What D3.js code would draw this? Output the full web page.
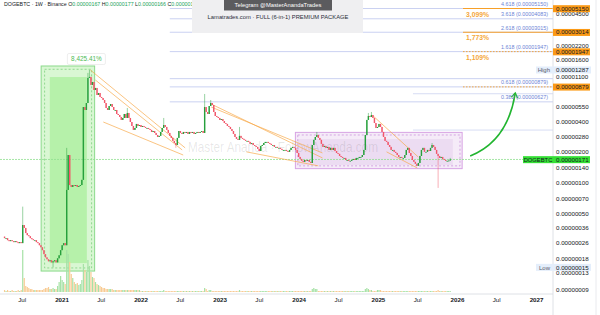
<!DOCTYPE html>
<html>
<head>
<meta charset="utf-8">
<script src="https://cdn.jsdelivr.net/npm/d3@7"></script>
<style>
  body { margin: 0; background: #fff; }
  svg { display: block; font-family: "Liberation Sans", Arial, sans-serif; }
</style>
</head>
<body>
<div id="chart"></div>
<script>
// DOGEBTC 1W (Binance) - prices in satoshi (1e-8 BTC), one close per week
const FIRST_WEEK = "2020-04-13";
const FIRST_OPEN = 30;

const close2020 = [29, 29, 27.7, 27.1, 27.7, 27.1, 26.5, 27.1, 26.5, 25.9, 26.5, 25.9,
  39, 36.5, 32.5, 31, 30.3, 29, 28.3, 27.7, 27.7, 26.5, 25.9, 24.7, 23.6, 22.1,
  20.2, 18.8, 18.0, 17.2, 17.6, 16.8, 17.2, 17.6, 16.8, 18.4, 19.7, 22.1];
const close2021 = [24.7, 25.9, 24.7, 86, 189, 96, 92, 96, 94, 96, 92, 94, 96, 108,
  558, 522, 611, 1075, 1100, 918, 982, 820, 858, 732,
  766, 700, 684, 654, 611, 546, 522, 571, 597, 558,
  522, 522, 477, 466, 446, 417, 436, 477, 436, 488,
  436, 398, 364, 333, 348, 381, 364, 372];
const close2022 = [356, 364, 356, 348, 348, 340, 333, 318, 325, 311,
  297, 284, 291, 318, 348, 372, 356, 333, 311, 291,
  278, 260, 248, 237, 278, 325, 311, 304, 318, 311,
  318, 304, 318, 311, 318, 304, 311, 318, 311, 318,
  325, 311, 558, 499, 477, 571, 611, 584, 499, 456,
  446, 436];
const close2023 = [417, 426, 407, 389, 381, 364, 356, 340, 325, 304,
  284, 272, 266, 291, 278, 272, 266, 260, 260, 254,
  243, 248, 237, 232, 227, 217, 207, 232, 237, 248,
  254, 254, 248, 243, 237, 237, 227, 227, 222, 222,
  217, 212, 212, 212, 207, 203, 212, 222, 227, 222,
  212, 198];
const close2024 = [181, 173, 166, 162, 169, 166, 169, 162, 158, 237,
  266, 284, 297, 278, 266, 243, 227, 232, 222, 227,
  212, 222, 212, 222, 207, 198, 194, 185, 181, 177,
  177, 169, 169, 166, 166, 169, 173, 169, 177, 177,
  181, 181, 189, 212, 297, 417, 456, 446, 466, 436,
  389, 348];
const close2025 = [356, 381, 356, 318, 284, 260, 254, 237, 227, 212,
  212, 203, 198, 189, 181, 181, 177, 177, 189, 212,
  222, 198, 185, 169, 162, 155, 148, 158, 185, 212,
  222, 203, 203, 212, 207, 222, 237, 227, 212, 194,
  185, 177, 181, 173, 169, 166, 166, 167, 171];

// notable wicks [week index, price]
const wickHigh = [[12, 59], [41, 222], [55, 1204], [56, 1287], [81, 546], [105, 436],
  [132, 749], [136, 654], [155, 356], [206, 318], [240, 488], [242, 499], [282, 248], [294, 177]];
const wickLow = [[32, 15], [113, 222], [286, 90], [294, 166]];

// weekly volume (relative units)
const vol2020 = [2, 1, 2, 1, 1, 2, 1, 1, 1, 2, 1, 2, 42, 14, 6, 5, 4, 3, 3, 2, 2, 2, 2, 2,
  2, 2, 3, 4, 4, 5, 3, 3, 4, 3, 3, 6, 10, 16];
const vol2021 = [12, 10, 8, 42, 38, 30, 18, 14, 10, 8, 9, 7, 8, 12,
  28, 22, 20, 32, 26, 20, 15, 14, 10, 8,
  7, 6, 5, 4, 4, 3, 3, 3, 3, 3,
  2, 2, 2, 2, 2, 2, 2, 2, 2, 2,
  2, 2, 2, 2, 2, 2, 2, 2];
const vol2022 = [1, 1, 1, 1, 1, 1, 1, 1, 1, 1, 1, 1, 1, 1, 1, 2, 1, 1, 1, 1,
  1, 1, 1, 1, 1, 1, 1, 1, 1, 1, 1, 1, 1, 1, 1, 1, 1, 1, 1, 1,
  1, 1, 4, 3, 1, 2, 2, 1, 1, 1, 1, 1];
const vol2023 = [1, 1, 1, 1, 1, 1, 1, 1, 1, 1, 1, 1, 1, 2, 1, 1, 1, 1, 1, 1,
  1, 1, 1, 1, 1, 1, 1, 1, 1, 1, 1, 1, 1, 1, 1, 1, 1, 1, 1, 1,
  1, 1, 1, 1, 1, 1, 1, 1, 1, 1, 1, 1];
const vol2024 = [1, 1, 1, 1, 1, 1, 1, 1, 1, 3, 4, 3, 3, 1, 1, 1, 1, 1, 1, 1,
  1, 1, 1, 1, 1, 1, 1, 1, 1, 1, 1, 1, 1, 1, 1, 1, 1, 1, 1, 1,
  1, 1, 1, 1, 3, 4, 3, 2, 2, 1, 1, 1];
const vol2025 = [2, 2, 2, 1, 1, 1, 1, 1, 1, 1, 1, 1, 1, 1, 1, 1, 1, 1, 1, 1,
  1, 1, 1, 1, 1, 1, 1, 1, 1, 1, 1, 1, 1, 1, 1, 1, 1, 1, 1, 1,
  2, 1, 1, 1, 1, 1, 1, 1, 1];

const priceTicks = [4500, 2200, 1600, 1100, 550, 400, 280, 200, 140, 100, 70, 50, 36, 26, 18, 13, 9];
const timeTicks = ["2020-07-01", "2021-01-01", "2021-07-01", "2022-01-01", "2022-07-01", "2023-01-01",
  "2023-07-01", "2024-01-01", "2024-07-01", "2025-01-01", "2025-07-01", "2026-01-01",
  "2026-07-01", "2027-01-01"];

// fibonacci extension tool
const FIB_START = "2022-05-16";
const fibLevels = ["4.618", "3.618", "2.618", "1.618", "", "0.618", "0.382"];
const fibPrices = [5150, 4083, 3015, 1947, 1058, 879, 627];
const extraLevels = [753, 332];
const EXTRA_START = "2025-06-12";

// targets
const TARGET_START = "2026-01-29";
const targetPrices = [5150, 3014, 1947, 879];
const targetGains = ["3,099%", "1,773%", "1,109%", ""];
const HIGH_PRICE = 1287, LOW_PRICE = 15;

// falling wedges [date0, price0, date1, price1]
const wedges = [
  ["2021-05-14", 1288, "2022-07-26", 222],
  ["2021-06-06", 1028, "2022-07-12", 212],
  ["2021-07-13", 398, "2022-07-17", 189],
  ["2022-11-23", 597, "2024-04-20", 177],
  ["2022-11-23", 558, "2024-04-20", 198],
  ["2023-05-05", 203, "2024-04-01", 148],
  ["2024-12-10", 456, "2025-07-06", 181],
  ["2025-02-10", 203, "2025-07-02", 141]
];

// zones [date0, date1, priceTop, priceBottom]
const greenOuter = ["2020-09-29", "2021-06-03", 1408, 13.8];
const greenInner = ["2020-11-08", "2021-04-28", 1098, 16.5];
const greenDash = ["2020-10-15", "2021-05-20", 1307, 14.8];
const greenGain = ["2021-04-26", 1649, "8,425.41%"];
const purpleOuter = ["2023-12-17", "2026-01-25", 315, 139];
const purpleInner = ["2023-12-28", "2025-12-13", 271, 151];
const purpleDash = ["2023-12-28", "2026-01-15", 297, 148];

// projected move
const arrowPath = [["2026-03-03", 185], ["2026-08-23", 259], ["2026-09-27", 760]];

const parse = d3.timeParse("%Y-%m-%d");
const closes = [].concat(close2020, close2021, close2022, close2023, close2024, close2025);
const volumes = [].concat(vol2020, vol2021, vol2022, vol2023, vol2024, vol2025);
const hiMap = new Map(wickHigh), loMap = new Map(wickLow);
const first = parse(FIRST_WEEK);
const bars = closes.map((c, i) => {
  const o = i ? closes[i - 1] : FIRST_OPEN;
  return {
    date: d3.timeDay.offset(first, 7 * i), o, c,
    h: hiMap.has(i) ? hiMap.get(i) : Math.max(o, c),
    l: loMap.has(i) ? loMap.get(i) : Math.min(o, c),
    v: volumes[i]
  };
});
const last = bars[bars.length - 1];

const width = 600, height = 315;
const paneR = 553, axisR = 596, paneB = 294;
const UP = "#26a03c", DOWN = "#f2566a";

const x = d3.scaleTime()
  .domain([parse("2021-01-01"), parse("2027-01-01")])
  .range([61.5, 536]);
const y = d3.scaleLog()
  .domain([9, 5150])
  .range([290, 8.5]);
const vy = d3.scaleLinear()
  .domain([0, 45])
  .range([292, 247]);
const fmt = d => (d / 1e8).toFixed(8);

const svg = d3.select("#chart").append("svg")
  .attr("width", width)
  .attr("height", height);
svg.append("rect").attr("width", width).attr("height", height).attr("fill", "#fff");

const defs = svg.append("defs");
defs.append("clipPath").attr("id", "pane")
  .append("rect").attr("width", paneR).attr("height", paneB);
defs.append("marker")
  .attr("id", "arrowhead")
  .attr("viewBox", "0 0 10 10")
  .attr("refX", 7).attr("refY", 5)
  .attr("markerWidth", 5).attr("markerHeight", 5)
  .attr("orient", "auto")
  .append("path")
  .attr("d", "M1.5,1 L7.5,5 L1.5,9")
  .attr("fill", "none")
  .attr("stroke", "#22b530")
  .attr("stroke-width", 1.6);

const g = svg.append("g").attr("clip-path", "url(#pane)");

function zone(z) {
  const x0 = x(parse(z[0])), x1 = x(parse(z[1]));
  return g.append("rect")
    .attr("x", x0).attr("width", x1 - x0)
    .attr("y", y(z[2])).attr("height", y(z[3]) - y(z[2]));
}

// green accumulation zone
zone(greenOuter).attr("fill", "#d9f7d3").attr("stroke", "#8bd98b").attr("stroke-width", 1);
zone(greenInner).attr("fill", "#b6f1aa");
zone(greenDash).attr("fill", "none").attr("stroke", "#7fd07f")
  .attr("stroke-width", 0.8).attr("stroke-dasharray", "2,2");

// purple range
zone(purpleOuter).attr("fill", "#f5ebf8").attr("stroke", "#d7a3e3").attr("stroke-width", 1);
zone(purpleInner).attr("fill", "#ecdcf2");
zone(purpleDash).attr("fill", "none").attr("stroke", "#cc94dc")
  .attr("stroke-width", 0.8).attr("stroke-dasharray", "2,2");

// fib lines
g.selectAll(".fib").data(fibPrices).join("line")
  .attr("x1", x(parse(FIB_START))).attr("x2", paneR)
  .attr("y1", d => y(d)).attr("y2", d => y(d))
  .attr("stroke", "#bcc5ee").attr("stroke-width", 0.8);
g.selectAll(".extra").data(extraLevels).join("line")
  .attr("x1", x(parse(EXTRA_START))).attr("x2", paneR)
  .attr("y1", d => y(d)).attr("y2", d => y(d))
  .attr("stroke", "#cdd3f0").attr("stroke-width", 0.8);

// watermark
g.append("text")
  .attr("x", 188).attr("y", 152)
  .attr("font-size", 15)
  .attr("textLength", 190).attr("lengthAdjust", "spacingAndGlyphs")
  .attr("fill", "#000").attr("fill-opacity", 0.1)
  .text("Master Ananda · FollowAnanda.com");

// current price line
g.append("line")
  .attr("x1", 0).attr("x2", paneR)
  .attr("y1", y(last.c)).attr("y2", y(last.c))
  .attr("stroke", "#8fe08f").attr("stroke-width", 0.8)
  .attr("stroke-dasharray", "2,1");

// wedges
g.selectAll(".wedge").data(wedges).join("line")
  .attr("x1", d => x(parse(d[0]))).attr("y1", d => y(d[1]))
  .attr("x2", d => x(parse(d[2]))).attr("y2", d => y(d[3]))
  .attr("stroke", "#f7a845").attr("stroke-opacity", 0.85).attr("stroke-width", 0.8);

// volume
g.selectAll(".vol").data(bars).join("rect")
  .attr("x", d => x(d.date) - 0.6).attr("width", 1.2)
  .attr("y", d => vy(d.v)).attr("height", d => vy(0) - vy(d.v))
  .attr("fill", d => d.c >= d.o ? "#a6e2a6" : "#f8cb94");

// candles
g.selectAll(".wick").data(bars).join("line")
  .attr("x1", d => x(d.date)).attr("x2", d => x(d.date))
  .attr("y1", d => y(d.h)).attr("y2", d => y(d.l))
  .attr("stroke", d => d.c >= d.o ? UP : DOWN).attr("stroke-width", 0.6)
  .attr("stroke-opacity", 0.8);
g.selectAll(".body").data(bars).join("rect")
  .attr("x", d => x(d.date) - 0.7).attr("width", 1.4)
  .attr("y", d => y(Math.max(d.o, d.c)))
  .attr("height", d => Math.max(0.9, Math.abs(y(d.o) - y(d.c))))
  .attr("fill", d => d.c >= d.o ? UP : DOWN);

// arrow
const ap = d3.path();
ap.moveTo(x(parse(arrowPath[0][0])), y(arrowPath[0][1]));
ap.quadraticCurveTo(x(parse(arrowPath[1][0])), y(arrowPath[1][1]),
  x(parse(arrowPath[2][0])), y(arrowPath[2][1]));
g.append("path").attr("d", ap.toString())
  .attr("fill", "none").attr("stroke", "#22b530").attr("stroke-width", 1.6)
  .attr("marker-end", "url(#arrowhead)");

// target lines + gains
targetPrices.forEach((p, i) => {
  g.append("line")
    .attr("x1", x(parse(TARGET_START))).attr("x2", paneR)
    .attr("y1", y(p)).attr("y2", y(p))
    .attr("stroke", "#f7a028").attr("stroke-width", i < 2 ? 1 : 0.9)
    .attr("stroke-dasharray", i < 2 ? null : "1.5,1.5");
  if (targetGains[i]) {
    g.append("text")
      .attr("x", x(parse(TARGET_START)) + 3).attr("y", y(p) + 8)
      .attr("font-size", 6.8).attr("font-weight", "bold")
      .attr("fill", "#f5a73b")
      .text(targetGains[i]);
  }
});

// fib labels
fibPrices.forEach((p, i) => {
  if (!fibLevels[i]) return;
  g.append("text")
    .attr("x", 548).attr("y", y(p) - 2.5)
    .attr("text-anchor", "end")
    .attr("font-size", 5.4)
    .attr("fill", "#6c84d6")
    .text(`${fibLevels[i]} (${fmt(p)})`);
});

// gain label
const gx = x(parse(greenGain[0])), gy = y(greenGain[1]);
g.append("rect").attr("x", gx - 19).attr("y", gy - 5.5).attr("width", 38).attr("height", 11)
  .attr("rx", 1.5).attr("fill", "#fff").attr("stroke", "#e3e3e3").attr("stroke-width", 0.6);
g.append("text").attr("x", gx).attr("y", gy + 2.3)
  .attr("text-anchor", "middle").attr("font-size", 6.4)
  .attr("fill", "#4cbb55").text(greenGain[2]);

// axes frame
svg.append("line").attr("x1", 0).attr("x2", paneR).attr("y1", paneB).attr("y2", paneB)
  .attr("stroke", "#d6d9e0").attr("stroke-width", 0.8);
svg.append("line").attr("x1", paneR).attr("x2", paneR).attr("y1", 0).attr("y2", height)
  .attr("stroke", "#d6d9e0").attr("stroke-width", 0.8);
svg.append("line").attr("x1", axisR).attr("x2", axisR).attr("y1", 0).attr("y2", height)
  .attr("stroke", "#e3e5ea").attr("stroke-width", 0.8);

// price axis
const yAxis = d3.axisRight(y)
  .tickValues(priceTicks)
  .tickSize(0)
  .tickPadding(3)
  .tickFormat(fmt);
const ya = svg.append("g").attr("transform", `translate(${paneR}, 0)`).call(yAxis);
ya.select(".domain").remove();
ya.selectAll("text").attr("font-size", 6.2).attr("fill", "#131722").attr("font-family", null)
  .attr("dy", "0.2em");

// time axis
const xAxis = d3.axisBottom(x)
  .tickValues(timeTicks.map(parse))
  .tickSize(0)
  .tickPadding(4)
  .tickFormat(d => d.getMonth() === 0 ? d3.timeFormat("%Y")(d) : d3.timeFormat("%b")(d));
const xa = svg.append("g").attr("transform", `translate(0, ${paneB})`).call(xAxis);
xa.select(".domain").remove();
xa.selectAll("text")
  .attr("font-size", 6.2).attr("fill", "#131722").attr("font-family", null)
  .attr("font-weight", d => d.getMonth() === 0 ? "bold" : null);

// axis badges
function badge(p, bg, fg, w) {
  svg.append("rect").attr("x", paneR).attr("y", y(p) - 3.3).attr("width", w).attr("height", 7)
    .attr("fill", bg);
  svg.append("text").attr("x", paneR + 3).attr("y", y(p) + 2.2)
    .attr("font-size", 6.2).attr("fill", fg).text(fmt(p));
}
targetPrices.forEach(p => badge(p, "#fb9a16", "#131722", 37));

[[HIGH_PRICE, "High"], [LOW_PRICE, "Low"]].forEach(([p, name]) => {
  svg.append("rect").attr("x", 536).attr("y", y(p) - 3.5).attr("width", 55).attr("height", 7)
    .attr("fill", "#e4eefb");
  svg.append("text").attr("x", 550).attr("y", y(p) + 2.2).attr("text-anchor", "end")
    .attr("font-size", 6).attr("fill", "#5d606b").text(name);
  svg.append("text").attr("x", paneR + 3).attr("y", y(p) + 2.2)
    .attr("font-size", 6.2).attr("fill", "#131722").text(fmt(p));
});

svg.append("rect").attr("x", 523).attr("y", y(last.c) - 3.3).attr("width", 30).attr("height", 7)
  .attr("fill", "#35e035");
svg.append("text").attr("x", 538).attr("y", y(last.c) + 2.2).attr("text-anchor", "middle")
  .attr("font-size", 5.8).attr("fill", "#131722").text("DOGEBTC");
badge(last.c, "#35e035", "#131722", 37);

// legend header
const hdr = svg.append("text").attr("x", 4).attr("y", 6).attr("font-size", 5.3).attr("fill", "#131722");
hdr.append("tspan").text("DOGEBTC · 1W · Binance ");
[["O", last.o], ["H", last.h], ["L", last.l], ["C", last.c]].forEach(([k, v]) => {
  hdr.append("tspan").text(" " + k);
  hdr.append("tspan").attr("fill", "#22a35a").text(fmt(v));
});

// promo panels
svg.append("rect").attr("x", 192).attr("y", 0).attr("width", 171).attr("height", 33)
  .attr("fill", "#efeff1");
svg.append("rect").attr("x", 224).attr("y", 0).attr("width", 108).attr("height", 10.5)
  .attr("fill", "#5b5b5e");
svg.append("text").attr("x", 278).attr("y", 7.3).attr("text-anchor", "middle")
  .attr("font-size", 5.8).attr("fill", "#fff").text("Telegram @MasterAnandaTrades");
svg.append("text").attr("x", 278).attr("y", 18.5).attr("text-anchor", "middle")
  .attr("font-size", 5.8).attr("fill", "#2a2e39").text("Lamatrades.com · FULL (6-in-1) PREMIUM PACKAGE");
</script>
</body>
</html>
